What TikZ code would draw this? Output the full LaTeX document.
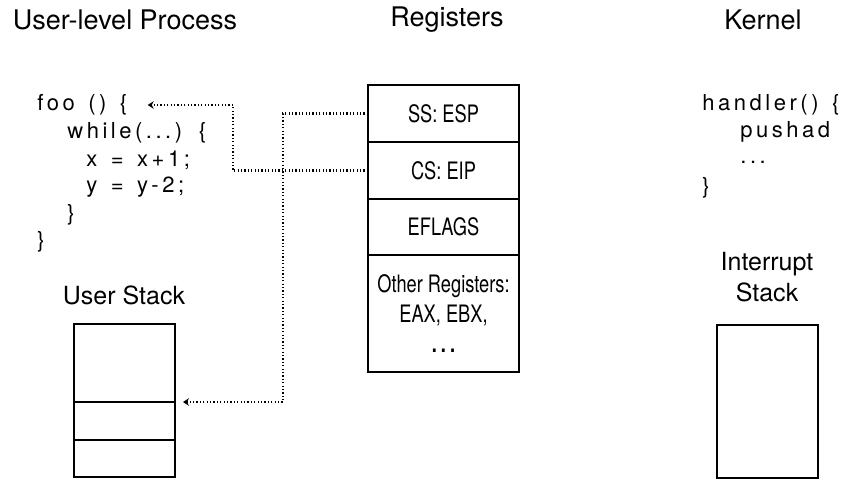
\documentclass[tikz,border=0pt]{standalone}
\usepackage{fontspec}
\setmainfont{TeX Gyre Heros}
\newfontfamily\codefont[LetterSpace=16,WordSpace=1.4]{TeX Gyre Heros}
\newfontfamily\regfont[FakeStretch=0.76]{TeX Gyre Heros}
\usetikzlibrary{arrows.meta,positioning}

\begin{document}
\begin{tikzpicture}[
    x=0.5pt,y=-0.5pt,
    title/.style={font=\fontsize{13.5}{16}\selectfont},
    subtitle/.style={align=center,font=\fontsize{12.5}{15.5}\selectfont},
    code/.style={anchor=west,inner sep=0pt,font=\codefont\fontsize{11}{13}\selectfont},
    reg/.style={draw,line width=0.9pt,outer sep=0pt,inner sep=0pt,minimum width=75.5pt,
      align=center,font=\regfont\fontsize{12}{15}\selectfont},
    cell/.style={draw,line width=0.9pt,outer sep=0pt,inner sep=0pt,minimum width=50.5pt},
    ptr/.style={line width=1.1pt,dash pattern=on 0.6pt off 1.1pt,
      -{Stealth[length=3pt,width=3.8pt]},shorten >=10pt}
  ]
  \useasboundingbox (0,0) rectangle (844,488);
  % headings
  \node[title] (tuser) at (125,20) {User-level Process};
  \node[title] (treg) at (447,20) {Registers};
  \node[title] (tkern) at (763,20) {Kernel};
  % user code
  \foreach \x/\y/\t [count=\i] in {37/105/{foo () \{},67/133/{while(...) \{},
      86/160/{x = x+1;},86/187/{y = y-2;},67/215/{\}},37/242/{\}}}
    \node[code] (code\i) at (\x,\y) {\t};
  % kernel code
  \node[code] (hand1) at (702,105) {handler() \{};
  \node[code] (hand2) at (740,132) {pushad};
  \node[code] (hand3) at (740,162) {...};
  \node[code] (hand4) at (702,188) {\}};
  % registers
  \node[reg,minimum height=28.5pt] (ss) at (443.5,113.5) {SS: ESP};
  \node[reg,minimum height=28.5pt,below=0pt of ss] (cs) {CS: EIP};
  \node[reg,minimum height=28pt,below=0pt of cs] (efl) {EFLAGS};
  \node[reg,minimum height=58.5pt,below=0pt of efl] (oth) {Other Registers:\\EAX, EBX,\\\textbf{.\,.\,.}};
  % stacks
  \node[subtitle] (tustack) at (124,295) {User Stack};
  \node[cell,minimum height=39pt] (us1) at (124.5,363) {};
  \node[cell,minimum height=19pt,below=0pt of us1] (us2) {};
  \node[cell,minimum height=18.5pt,below=0pt of us2] (us3) {};
  \node[subtitle] (tistack) at (767,277) {Interrupt\\Stack};
  \node[cell,minimum height=76.5pt] (is) at (767.5,401.5) {};
  % saved pointers
  \draw[ptr] (cs.west) -- ++(-135,0) |- (code1.east);
  \draw[ptr,shorten >=4pt] (ss.west) -- ++(-85,0) |- (us1.south east);
\end{tikzpicture}
\end{document}
